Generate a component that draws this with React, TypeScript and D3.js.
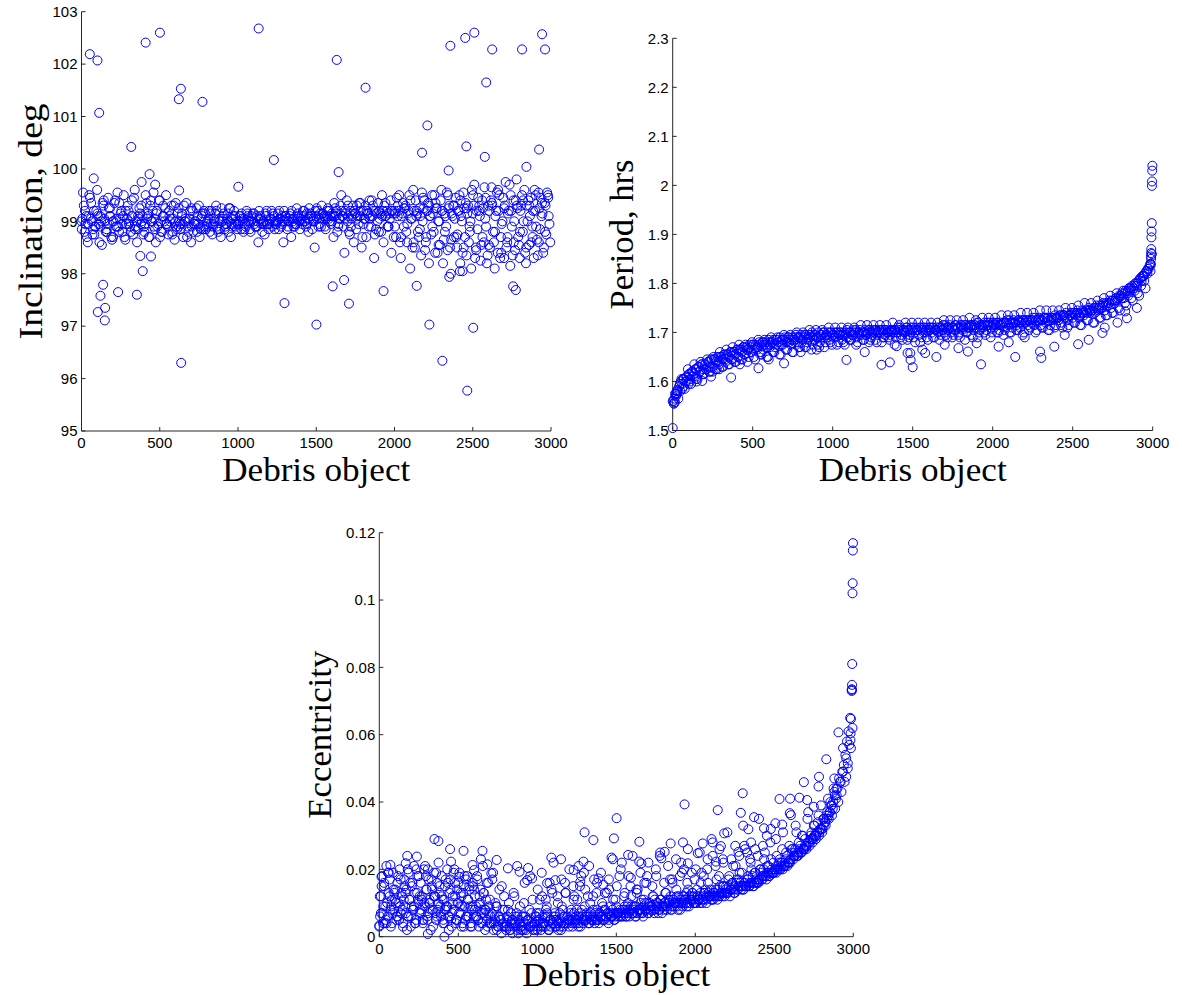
import React from "react";
import * as d3 from "d3";

// ---------- tick labels ----------
const xTicks = [0, 500, 1000, 1500, 2000, 2500, 3000];
const incTicks = [95, 96, 97, 98, 99, 100, 101, 102, 103];
const perTicks = [1.5, 1.6, 1.7, 1.8, 1.9, 2, 2.1, 2.2, 2.3];
const eccTicks = [0, 0.02, 0.04, 0.06, 0.08, 0.1, 0.12];

// ---------- Inclination (deg) ----------
// objects 0,10,20,...
const incBand = [
  99.0, 99.55, 98.8, 99.1, 98.6, 99.5, 99.05, 98.75, 99.2, 98.9, 99.6, 98.95, 99.1, 98.55, 99.3, 99.0, 98.85, 99.45, 99.1, 98.7,
  99.0, 99.35, 98.9, 99.55, 98.8, 99.15, 98.95, 99.5, 98.65, 99.05, 99.2, 98.9, 99.1, 98.75, 99.6, 99.0, 98.85, 99.25, 98.95, 99.1,
  98.9, 99.5, 99.05, 98.7, 99.3, 99.0, 99.55, 98.85, 99.15, 98.95, 99.4, 98.8, 99.1, 99.0, 99.5, 98.9, 99.2, 99.05, 98.75, 99.3,
  99.0, 98.85, 99.25, 98.95, 99.1, 98.7, 99.0, 99.35, 98.9, 99.05, 98.6, 99.2, 98.95, 99.0, 98.8, 99.3, 98.9, 99.1, 98.85, 99.15,
  98.95, 99.05, 98.8, 99.2, 98.9, 99.0, 99.3, 98.85, 99.05, 98.7, 99.0, 99.15, 98.9, 99.05, 98.8, 99.25, 98.95, 99.1, 98.9, 99.0,
  98.95, 99.1, 98.85, 99.0, 99.05, 98.9, 99.15, 99.0, 98.8, 99.05, 99.0, 98.9, 99.1, 98.6, 99.05, 98.95, 99.0, 98.75, 99.1, 98.95,
  99.0, 99.05, 98.9, 99.1, 98.95, 99.0, 98.85, 99.05, 99.1, 98.6, 99.0, 99.05, 98.9, 99.1, 98.7, 99.0, 99.05, 98.95, 99.1, 99.0,
  99.05, 98.95, 99.1, 99.0, 99.15, 98.8, 99.05, 99.1, 99.0, 98.5, 99.1, 99.2, 99.05, 98.9, 99.15, 99.1, 98.85, 99.2, 99.05, 99.1,
  99.15, 98.7, 99.1, 99.2, 98.9, 99.05, 99.5, 99.1, 98.4, 99.15, 99.0, 98.8, 99.2, 99.1, 98.6, 99.15, 99.3, 98.95, 99.1, 98.5,
  99.2, 99.05, 98.7, 99.15, 99.4, 98.9, 99.1, 98.3, 99.2, 99.0, 98.8, 99.15, 99.5, 98.6, 99.1, 99.2, 98.9, 99.05, 98.4, 99.15,
  99.2, 98.7, 99.1, 99.5, 98.3, 99.15, 98.9, 99.3, 98.6, 99.2, 98.1, 99.05, 99.6, 98.5, 99.1, 98.8, 99.25, 98.35, 99.0, 99.4,
  98.6, 99.2, 98.2, 99.1, 99.5, 98.8, 98.4, 99.25, 99.0, 98.55, 99.6, 98.2, 99.15, 98.9, 98.45, 99.3, 98.0, 99.1, 98.7, 99.45,
  98.5, 99.2, 98.2, 99.0, 99.55, 98.7, 98.35, 99.3, 98.9, 98.1, 99.15, 99.7, 98.5, 98.85, 99.2, 98.25, 99.4, 98.6, 99.05, 98.2,
  99.3, 98.5, 99.65, 98.8, 98.1, 99.2, 98.4, 99.5, 98.7, 99.0, 98.3, 99.75, 98.6, 99.2, 98.15, 98.9, 99.4, 98.45, 99.8, 98.7,
  98.3, 99.3, 98.8, 99.6, 98.2, 99.0, 98.55, 99.45, 98.9, 98.3, 99.2, 98.65, 99.55, 98.85, 99.1, 98.4, 99.35, 98.75, 99.5, 98.95,
];
// objects 5,25,45,...
const incCore = [
  99.05, 98.95, 99.1, 99.0, 98.9, 99.1, 99.0, 99.05, 98.95, 99.1, 99.0, 98.9, 99.05, 99.1, 98.95, 99.0, 99.1, 98.9, 99.05, 99.0,
  98.95, 99.1, 99.0, 99.05, 98.9, 99.0, 99.1, 98.95, 99.0, 99.05, 98.9, 99.0, 98.95, 99.05, 99.0, 98.9, 99.0, 98.95, 99.05, 98.9,
  99.0, 98.95, 99.05, 98.9, 99.0, 99.05, 98.95, 99.0, 99.05, 98.95, 99.0, 99.05, 98.95, 99.0, 99.1, 98.95, 99.0, 99.05, 99.0, 98.95,
  99.05, 99.0, 98.95, 99.05, 99.0, 99.1, 99.0, 99.05, 98.95, 99.05, 99.1, 99.0, 99.05, 99.1, 99.0, 99.05, 99.15, 99.05, 99.1, 99.0,
  99.1, 99.15, 99.05, 99.1, 99.2, 99.1, 99.05, 99.15, 99.1, 99.2, 99.05, 99.15, 99.1, 99.2, 99.15, 99.05, 99.2, 99.1, 99.15, 99.2,
  99.15, 99.2, 99.1, 99.25, 99.15, 99.05, 99.2, 99.15, 99.1, 99.25, 99.2, 99.1, 99.15, 99.25, 99.0, 99.2, 99.1, 99.25, 99.15, 99.05,
  99.2, 99.1, 99.25, 99.15, 99.0, 99.3, 99.2, 99.1, 99.25, 98.9, 99.2, 99.3, 99.1, 99.2, 98.95, 99.3, 99.15, 99.2, 99.0, 99.25,
  99.2, 99.0, 99.3, 99.1, 99.2, 98.9, 99.25, 99.15, 99.3, 99.1,
];
// objects 15,35,55,...
const incSpread = [
  99.3, 98.7, 99.45, 98.85, 99.2, 98.6, 99.35, 98.8, 99.25, 98.65, 99.4, 98.9, 99.2, 98.7, 99.3, 98.8, 99.45, 98.6, 99.15, 98.75,
  99.35, 98.7, 99.2, 98.6, 99.4, 98.8, 99.25, 98.75, 99.3, 98.65, 99.15, 98.85, 99.3, 98.7, 99.2, 98.8, 99.25, 98.7, 99.15, 98.85,
  99.2, 98.75, 99.15, 98.8, 99.25, 98.85, 99.15, 98.7, 99.2, 98.85, 99.1, 98.8, 99.2, 98.85, 99.15, 98.9, 99.2, 98.8, 99.15, 98.85,
  99.2, 98.85, 99.15, 98.9, 99.2, 98.85, 99.15, 98.9, 99.25, 98.85, 99.2, 98.9, 99.25, 98.85, 99.2, 98.9, 99.3, 98.9, 99.25, 98.95,
  99.35, 98.8, 99.3, 98.9, 99.4, 98.75, 99.3, 98.85, 99.35, 98.7, 99.3, 98.9, 99.4, 98.75, 99.35, 98.8, 99.3, 98.9, 99.4, 98.7,
  99.45, 98.6, 99.35, 98.8, 99.5, 98.5, 99.4, 98.7, 99.55, 98.45, 99.35, 98.75, 99.5, 98.4, 99.4, 98.65, 99.55, 98.5, 99.3, 98.7,
  99.5, 98.4, 99.35, 98.6, 99.6, 98.3, 99.45, 98.55, 99.65, 98.35, 99.4, 98.6, 99.55, 98.3, 99.45, 98.5, 99.7, 98.35, 99.4, 98.55,
  99.5, 98.4, 99.4, 98.6, 99.6, 98.35, 99.45, 98.5, 99.55, 98.6,
];
// objects 2,22,42,...
const incExtra = [
  98.85, 99.2, 98.95, 99.35, 98.75, 99.15, 98.9, 99.4, 98.8, 99.25, 98.7, 99.05, 99.35, 98.8, 99.2, 98.95, 99.4, 98.85, 99.1, 99.3,
  98.8, 99.15, 99.4, 98.9, 99.2, 98.7, 99.3, 98.95, 99.1, 98.8, 99.35, 98.9, 99.15, 99.0, 98.8, 99.25, 98.95, 99.1, 98.85, 99.2,
  98.9, 99.15, 98.95, 99.2, 98.85, 99.1, 98.95, 99.25, 98.9, 99.1, 98.95, 99.15, 98.85, 99.1, 99.0, 99.15, 98.9, 99.1, 98.95, 99.2,
  98.95, 99.15, 99.0, 99.2, 98.95, 99.1, 99.0, 99.2, 98.9, 99.15, 99.0, 99.2, 98.95, 99.15, 99.05, 99.25, 98.95, 99.15, 99.05, 99.2,
  99.0, 99.25, 98.95, 99.2, 99.05, 99.3, 98.9, 99.2, 99.05, 99.35, 98.95, 99.2, 99.05, 99.3, 98.85, 99.2, 99.1, 99.35, 98.9, 99.2,
  98.9, 99.3, 98.7, 99.25, 98.95, 99.4, 98.6, 99.2, 98.85, 99.45, 98.7, 99.3, 98.9, 99.35, 98.55, 99.2, 98.8, 99.5, 98.65, 99.3,
  98.75, 99.4, 98.5, 99.25, 98.8, 99.5, 98.45, 99.3, 98.7, 99.45, 98.55, 99.35, 98.8, 99.6, 98.4, 99.25, 98.7, 99.5, 98.6, 99.3,
  98.8, 99.4, 98.5, 99.3, 98.7, 99.5, 98.6, 99.35, 98.8, 99.45,
];
const incOutliers: [number, number][] = [
  [53, 102.19], [102, 102.07], [113, 101.07], [410, 102.41], [501, 102.6], [622, 101.33], [635, 101.53], [773, 101.28],
  [1132, 102.68], [1229, 100.17], [318, 100.42], [78, 99.82], [384, 99.75], [435, 99.9], [471, 99.7], [1002, 99.66],
  [624, 99.59], [138, 97.79], [121, 97.58], [104, 97.27], [151, 97.35], [149, 97.11], [234, 97.65], [354, 97.6],
  [391, 98.05], [444, 98.33], [376, 98.34], [637, 96.3], [1297, 97.44], [1501, 97.03], [1643, 99.94], [1631, 102.08],
  [1815, 101.55], [1605, 97.76], [1678, 97.88], [1709, 97.43], [1930, 97.67], [2142, 97.77], [2176, 100.31], [2210, 100.83],
  [2223, 97.03], [2306, 96.34], [2346, 99.97], [2350, 97.94], [2357, 102.35], [2418, 98.05], [2435, 98.05], [2452, 102.5],
  [2459, 100.43], [2465, 95.77], [2503, 96.97], [2510, 102.6], [2577, 100.23], [2586, 101.65], [2624, 102.28], [2758, 97.76],
  [2775, 97.69], [2815, 102.28], [2843, 100.04], [2924, 100.37], [2943, 102.57], [2962, 102.28],
];

// ---------- Period (hrs) ----------
// objects 0,10,20,...
const perBand = [
  1.56, 1.565, 1.575, 1.58, 1.59, 1.6, 1.595, 1.605, 1.6, 1.61, 1.615, 1.605, 1.62, 1.615, 1.625, 1.61, 1.63, 1.62, 1.635, 1.625,
  1.635, 1.625, 1.64, 1.63, 1.645, 1.62, 1.645, 1.64, 1.65, 1.635, 1.65, 1.645, 1.655, 1.64, 1.655, 1.65, 1.66, 1.645, 1.66, 1.655,
  1.665, 1.65, 1.665, 1.66, 1.67, 1.655, 1.67, 1.665, 1.675, 1.66, 1.675, 1.665, 1.675, 1.67, 1.68, 1.66, 1.68, 1.675, 1.68, 1.67,
  1.685, 1.675, 1.68, 1.685, 1.67, 1.685, 1.68, 1.69, 1.675, 1.685, 1.69, 1.68, 1.69, 1.685, 1.675, 1.69, 1.685, 1.695, 1.68, 1.69,
  1.695, 1.685, 1.69, 1.695, 1.68, 1.695, 1.69, 1.7, 1.685, 1.695, 1.69, 1.7, 1.68, 1.695, 1.7, 1.69, 1.695, 1.7, 1.685, 1.7,
  1.695, 1.7, 1.69, 1.7, 1.695, 1.7, 1.685, 1.7, 1.695, 1.705, 1.69, 1.7, 1.695, 1.705, 1.7, 1.69, 1.7, 1.705, 1.695, 1.7,
  1.705, 1.695, 1.7, 1.705, 1.69, 1.705, 1.7, 1.705, 1.695, 1.705, 1.7, 1.705, 1.69, 1.705, 1.7, 1.705, 1.695, 1.705, 1.7, 1.705,
  1.7, 1.705, 1.71, 1.695, 1.705, 1.7, 1.71, 1.705, 1.695, 1.71, 1.705, 1.7, 1.71, 1.705, 1.695, 1.71, 1.705, 1.71, 1.7, 1.71,
  1.705, 1.71, 1.7, 1.71, 1.705, 1.71, 1.7, 1.71, 1.705, 1.715, 1.7, 1.71, 1.705, 1.715, 1.7, 1.71, 1.705, 1.715, 1.71, 1.7,
  1.715, 1.705, 1.71, 1.715, 1.7, 1.715, 1.71, 1.715, 1.705, 1.715, 1.71, 1.72, 1.705, 1.715, 1.71, 1.72, 1.705, 1.715, 1.72, 1.71,
  1.72, 1.71, 1.715, 1.72, 1.705, 1.72, 1.715, 1.72, 1.71, 1.725, 1.715, 1.72, 1.71, 1.725, 1.72, 1.715, 1.725, 1.71, 1.72, 1.725,
  1.72, 1.725, 1.715, 1.725, 1.72, 1.73, 1.715, 1.725, 1.72, 1.73, 1.715, 1.725, 1.73, 1.72, 1.73, 1.725, 1.715, 1.73, 1.725, 1.735,
  1.73, 1.725, 1.735, 1.72, 1.735, 1.73, 1.74, 1.725, 1.735, 1.74, 1.73, 1.74, 1.735, 1.745, 1.73, 1.74, 1.745, 1.735, 1.745, 1.74,
  1.75, 1.74, 1.745, 1.75, 1.74, 1.755, 1.745, 1.755, 1.75, 1.76, 1.745, 1.76, 1.755, 1.765, 1.75, 1.765, 1.76, 1.77, 1.765, 1.775,
  1.775, 1.78, 1.77, 1.785, 1.78, 1.79, 1.785, 1.795, 1.79, 1.8, 1.795, 1.805, 1.81, 1.805, 1.815, 1.82, 1.825, 1.83, 1.835, 1.85,
];
// objects 5,25,45,...
const perCore = [
  1.56, 1.58, 1.595, 1.605, 1.61, 1.615, 1.62, 1.625, 1.63, 1.635, 1.635, 1.64, 1.645, 1.645, 1.65, 1.65, 1.655, 1.655, 1.66, 1.66,
  1.665, 1.665, 1.67, 1.665, 1.67, 1.675, 1.67, 1.675, 1.68, 1.675, 1.68, 1.68, 1.685, 1.68, 1.685, 1.685, 1.69, 1.685, 1.69, 1.69,
  1.69, 1.695, 1.69, 1.695, 1.695, 1.69, 1.695, 1.7, 1.695, 1.7, 1.695, 1.7, 1.7, 1.695, 1.7, 1.7, 1.7, 1.705, 1.7, 1.7,
  1.7, 1.705, 1.7, 1.705, 1.7, 1.705, 1.705, 1.7, 1.705, 1.705, 1.71, 1.705, 1.705, 1.71, 1.705, 1.71, 1.705, 1.71, 1.71, 1.705,
  1.71, 1.71, 1.705, 1.71, 1.71, 1.715, 1.71, 1.71, 1.715, 1.71, 1.715, 1.715, 1.71, 1.715, 1.715, 1.72, 1.715, 1.715, 1.72, 1.715,
  1.72, 1.72, 1.715, 1.72, 1.72, 1.725, 1.72, 1.72, 1.725, 1.725, 1.72, 1.725, 1.725, 1.73, 1.725, 1.725, 1.73, 1.73, 1.725, 1.73,
  1.73, 1.735, 1.735, 1.73, 1.735, 1.74, 1.74, 1.735, 1.74, 1.745, 1.745, 1.745, 1.75, 1.75, 1.755, 1.755, 1.76, 1.765, 1.765, 1.77,
  1.775, 1.78, 1.785, 1.79, 1.795, 1.8, 1.81, 1.815, 1.825, 1.84,
];
// objects 15,35,55,...
const perSpread = [
  1.575, 1.565, 1.605, 1.585, 1.625, 1.595, 1.635, 1.605, 1.64, 1.615, 1.645, 1.62, 1.65, 1.625, 1.66, 1.63, 1.665, 1.635, 1.67, 1.64,
  1.675, 1.645, 1.675, 1.65, 1.68, 1.645, 1.685, 1.655, 1.685, 1.65, 1.69, 1.66, 1.69, 1.655, 1.695, 1.665, 1.695, 1.66, 1.7, 1.67,
  1.7, 1.67, 1.705, 1.675, 1.705, 1.67, 1.705, 1.68, 1.71, 1.675, 1.71, 1.68, 1.71, 1.675, 1.71, 1.685, 1.71, 1.68, 1.715, 1.685,
  1.715, 1.685, 1.715, 1.68, 1.715, 1.69, 1.715, 1.685, 1.72, 1.69, 1.715, 1.685, 1.72, 1.69, 1.72, 1.68, 1.72, 1.69, 1.72, 1.685,
  1.72, 1.69, 1.72, 1.695, 1.725, 1.69, 1.725, 1.695, 1.725, 1.69, 1.725, 1.7, 1.73, 1.69, 1.725, 1.7, 1.73, 1.695, 1.73, 1.7,
  1.73, 1.7, 1.735, 1.705, 1.735, 1.7, 1.735, 1.705, 1.74, 1.7, 1.74, 1.71, 1.74, 1.705, 1.745, 1.71, 1.745, 1.705, 1.745, 1.715,
  1.745, 1.71, 1.75, 1.715, 1.75, 1.72, 1.755, 1.715, 1.76, 1.725, 1.76, 1.72, 1.765, 1.73, 1.77, 1.735, 1.775, 1.74, 1.78, 1.745,
  1.785, 1.755, 1.79, 1.765, 1.8, 1.775, 1.815, 1.79, 1.83, 1.86,
];
// objects 7,27,47,...
const perLow = [
  1.555, 1.575, 1.58, 1.59, 1.6, 1.6, 1.61, 1.605, 1.62, 1.615, 1.625, 1.62, 1.63, 1.625, 1.64, 1.63, 1.645, 1.635, 1.645, 1.64,
  1.65, 1.645, 1.655, 1.64, 1.66, 1.65, 1.665, 1.655, 1.665, 1.65, 1.67, 1.66, 1.675, 1.655, 1.675, 1.665, 1.68, 1.66, 1.68, 1.67,
  1.68, 1.67, 1.685, 1.665, 1.685, 1.675, 1.69, 1.67, 1.69, 1.68, 1.69, 1.675, 1.695, 1.68, 1.69, 1.685, 1.695, 1.675, 1.695, 1.685,
  1.695, 1.68, 1.695, 1.685, 1.7, 1.68, 1.695, 1.69, 1.7, 1.675, 1.7, 1.69, 1.7, 1.685, 1.7, 1.69, 1.705, 1.68, 1.7, 1.69,
  1.705, 1.69, 1.705, 1.685, 1.705, 1.695, 1.71, 1.69, 1.705, 1.695, 1.71, 1.685, 1.71, 1.695, 1.71, 1.69, 1.71, 1.7, 1.715, 1.69,
  1.715, 1.7, 1.715, 1.695, 1.72, 1.7, 1.72, 1.705, 1.72, 1.695, 1.725, 1.705, 1.725, 1.7, 1.725, 1.71, 1.73, 1.705, 1.73, 1.71,
  1.73, 1.715, 1.735, 1.71, 1.735, 1.72, 1.74, 1.715, 1.74, 1.725, 1.745, 1.72, 1.75, 1.73, 1.755, 1.735, 1.76, 1.74, 1.765, 1.75,
  1.77, 1.76, 1.775, 1.77, 1.785, 1.78, 1.795, 1.805, 1.82, 1.84,
];
const perOutliers: [number, number][] = [
  [0, 1.505], [8, 1.555], [14, 1.558], [20, 1.57], [30, 1.583], [60, 1.585], [100, 1.595], [150, 1.6], [184, 1.601],
  [240, 1.61], [290, 1.625], [365, 1.608], [420, 1.635], [536, 1.627], [600, 1.645], [696, 1.637], [800, 1.66], [900, 1.665],
  [1086, 1.644], [1200, 1.66], [1305, 1.634], [1357, 1.639], [1400, 1.672], [1468, 1.658], [1485, 1.658], [1487, 1.644],
  [1500, 1.629], [1560, 1.665], [1578, 1.658], [1648, 1.65], [1700, 1.675], [1786, 1.668], [1845, 1.661], [1900, 1.678],
  [1927, 1.635], [2037, 1.671], [2100, 1.68], [2141, 1.65], [2200, 1.69], [2296, 1.661], [2304, 1.648], [2385, 1.671],
  [2450, 1.695], [2534, 1.676], [2600, 1.685], [2686, 1.699], [2700, 1.71], [2780, 1.72], [2828, 1.743], [2839, 1.729],
  [2901, 1.75], [2986, 1.825], [2988, 1.838], [2989, 1.855], [2990, 1.862], [2991, 1.87], [2992, 1.894], [2993, 1.906],
  [2994, 1.923], [2995, 1.999], [2996, 2.008], [2997, 2.03], [2998, 2.04],
];

// ---------- Eccentricity ----------
// objects 0,10,20,...
const eccBand = [
  0.003, 0.012, 0.007, 0.016, 0.005, 0.01, 0.019, 0.008, 0.004, 0.014, 0.011, 0.006, 0.018, 0.009, 0.013, 0.003, 0.015, 0.007, 0.02, 0.011,
  0.006, 0.016, 0.009, 0.004, 0.013, 0.018, 0.008, 0.011, 0.005, 0.021, 0.014, 0.007, 0.01, 0.017, 0.003, 0.012, 0.019, 0.008, 0.015, 0.006,
  0.011, 0.004, 0.017, 0.009, 0.002, 0.014, 0.007, 0.019, 0.012, 0.005, 0.016, 0.009, 0.003, 0.013, 0.018, 0.006, 0.011, 0.015, 0.004, 0.009,
  0.014, 0.006, 0.017, 0.003, 0.01, 0.008, 0.013, 0.002, 0.016, 0.007, 0.011, 0.004, 0.019, 0.006, 0.009, 0.003, 0.014, 0.005, 0.008, 0.012,
  0.003, 0.006, 0.01, 0.002, 0.005, 0.013, 0.004, 0.007, 0.001, 0.009, 0.003, 0.006, 0.016, 0.002, 0.005, 0.008, 0.003, 0.011, 0.004, 0.006,
  0.002, 0.007, 0.004, 0.012, 0.003, 0.006, 0.009, 0.002, 0.005, 0.014, 0.004, 0.007, 0.003, 0.01, 0.005, 0.002, 0.008, 0.004, 0.013, 0.006,
  0.003, 0.007, 0.005, 0.011, 0.004, 0.008, 0.003, 0.015, 0.006, 0.004, 0.009, 0.005, 0.012, 0.004, 0.007, 0.006, 0.017, 0.005, 0.008, 0.004,
  0.006, 0.01, 0.005, 0.008, 0.013, 0.004, 0.007, 0.006, 0.011, 0.005, 0.009, 0.007, 0.018, 0.006, 0.008, 0.012, 0.006, 0.009, 0.007, 0.015,
  0.007, 0.009, 0.006, 0.013, 0.008, 0.007, 0.011, 0.006, 0.01, 0.016, 0.007, 0.009, 0.008, 0.012, 0.007, 0.02, 0.009, 0.008, 0.011, 0.007,
  0.009, 0.013, 0.008, 0.01, 0.017, 0.008, 0.011, 0.009, 0.014, 0.008, 0.01, 0.022, 0.009, 0.012, 0.01, 0.016, 0.009, 0.011, 0.013, 0.01,
  0.01, 0.014, 0.011, 0.01, 0.019, 0.011, 0.013, 0.01, 0.016, 0.012, 0.011, 0.024, 0.012, 0.014, 0.011, 0.018, 0.013, 0.012, 0.015, 0.013,
  0.013, 0.017, 0.012, 0.014, 0.021, 0.013, 0.016, 0.014, 0.019, 0.014, 0.015, 0.027, 0.015, 0.017, 0.015, 0.022, 0.016, 0.015, 0.019, 0.016,
  0.016, 0.02, 0.017, 0.018, 0.025, 0.017, 0.019, 0.018, 0.023, 0.019, 0.019, 0.029, 0.02, 0.022, 0.02, 0.026, 0.021, 0.021, 0.024, 0.022,
  0.022, 0.026, 0.023, 0.024, 0.031, 0.024, 0.026, 0.025, 0.03, 0.026, 0.027, 0.035, 0.028, 0.03, 0.029, 0.033, 0.03, 0.031, 0.036, 0.032,
  0.032, 0.035, 0.034, 0.036, 0.041, 0.037, 0.039, 0.038, 0.043, 0.041, 0.044, 0.047, 0.046, 0.049, 0.051, 0.054, 0.058, 0.061, 0.065, 0.073,
];
// objects 5,25,45,...
const eccCore = [
  0.006, 0.009, 0.004, 0.012, 0.007, 0.01, 0.005, 0.008, 0.013, 0.006, 0.009, 0.004, 0.011, 0.007, 0.01, 0.005, 0.008, 0.012, 0.006, 0.009,
  0.005, 0.008, 0.006, 0.01, 0.004, 0.007, 0.009, 0.005, 0.006, 0.003, 0.008, 0.005, 0.004, 0.007, 0.003, 0.006, 0.004, 0.002, 0.005, 0.003,
  0.004, 0.002, 0.005, 0.003, 0.004, 0.002, 0.006, 0.003, 0.004, 0.002, 0.005, 0.003, 0.004, 0.006, 0.003, 0.005, 0.004, 0.003, 0.006, 0.004,
  0.005, 0.004, 0.006, 0.004, 0.005, 0.006, 0.004, 0.005, 0.007, 0.005, 0.006, 0.005, 0.007, 0.006, 0.005, 0.007, 0.006, 0.007, 0.006, 0.008,
  0.007, 0.006, 0.008, 0.007, 0.008, 0.007, 0.009, 0.008, 0.007, 0.009, 0.008, 0.009, 0.008, 0.01, 0.009, 0.008, 0.01, 0.009, 0.01, 0.011,
  0.01, 0.011, 0.01, 0.011, 0.012, 0.011, 0.012, 0.012, 0.013, 0.012, 0.013, 0.014, 0.013, 0.014, 0.015, 0.014, 0.015, 0.016, 0.015, 0.016,
  0.017, 0.017, 0.018, 0.018, 0.019, 0.02, 0.02, 0.021, 0.022, 0.022, 0.023, 0.024, 0.025, 0.025, 0.026, 0.027, 0.028, 0.029, 0.03, 0.031,
  0.032, 0.033, 0.035, 0.036, 0.038, 0.04, 0.043, 0.046, 0.05, 0.056,
];
// objects 15,35,55,...
const eccSpread = [
  0.015, 0.004, 0.019, 0.009, 0.013, 0.006, 0.017, 0.011, 0.002, 0.016, 0.008, 0.02, 0.012, 0.005, 0.018, 0.01, 0.014, 0.007, 0.022, 0.012,
  0.008, 0.016, 0.005, 0.02, 0.01, 0.013, 0.003, 0.018, 0.009, 0.015, 0.006, 0.012, 0.021, 0.008, 0.004, 0.017, 0.01, 0.006, 0.015, 0.003,
  0.008, 0.004, 0.012, 0.006, 0.002, 0.01, 0.005, 0.018, 0.003, 0.007, 0.011, 0.004, 0.008, 0.002, 0.013, 0.006, 0.004, 0.009, 0.016, 0.005,
  0.008, 0.012, 0.005, 0.007, 0.019, 0.006, 0.01, 0.005, 0.013, 0.007, 0.009, 0.006, 0.014, 0.008, 0.011, 0.007, 0.022, 0.008, 0.01, 0.012,
  0.009, 0.014, 0.008, 0.011, 0.018, 0.009, 0.012, 0.01, 0.024, 0.009, 0.013, 0.011, 0.016, 0.01, 0.012, 0.019, 0.011, 0.014, 0.012, 0.017,
  0.012, 0.016, 0.013, 0.02, 0.014, 0.013, 0.017, 0.015, 0.023, 0.015, 0.018, 0.016, 0.021, 0.017, 0.019, 0.026, 0.018, 0.02, 0.019, 0.024,
  0.02, 0.023, 0.021, 0.028, 0.022, 0.024, 0.023, 0.031, 0.025, 0.027, 0.026, 0.033, 0.028, 0.03, 0.029, 0.037, 0.031, 0.033, 0.034, 0.039,
  0.035, 0.037, 0.04, 0.044, 0.042, 0.046, 0.049, 0.053, 0.057, 0.062,
];
// objects 3,10,17,... (first 700 objects)
const eccLeft = [
  0.012, 0.007, 0.018, 0.004, 0.015, 0.009, 0.021, 0.006, 0.013, 0.017, 0.003, 0.011, 0.019, 0.008, 0.014, 0.005, 0.016, 0.01, 0.02, 0.007,
  0.012, 0.004, 0.017, 0.009, 0.014, 0.006, 0.019, 0.011, 0.003, 0.015, 0.008, 0.021, 0.013, 0.005, 0.018, 0.01, 0.007, 0.016, 0.012, 0.004,
  0.02, 0.009, 0.014, 0.006, 0.017, 0.011, 0.002, 0.015, 0.008, 0.019, 0.012, 0.005, 0.016, 0.01, 0.013, 0.007, 0.018, 0.004, 0.011, 0.015,
  0.009, 0.02, 0.006, 0.013, 0.017, 0.003, 0.012, 0.008, 0.016, 0.005, 0.014, 0.01, 0.019, 0.007, 0.012, 0.004, 0.015, 0.009, 0.017, 0.006,
  0.011, 0.014, 0.003, 0.008, 0.016, 0.006, 0.012, 0.009, 0.018, 0.005, 0.01, 0.014, 0.007, 0.004, 0.013, 0.008, 0.011, 0.005, 0.016, 0.009,
];
// objects 703,713,... (to 1993)
const eccMid = [
  0.004, 0.007, 0.002, 0.005, 0.009, 0.003, 0.006, 0.001, 0.004, 0.008,
  0.002, 0.005, 0.003, 0.007, 0.001, 0.004, 0.006, 0.002, 0.005, 0.003,
  0.006, 0.002, 0.004, 0.001, 0.005, 0.003, 0.007, 0.002, 0.004, 0.006,
  0.003, 0.005, 0.002, 0.006, 0.004, 0.003, 0.007, 0.002, 0.005, 0.004,
  0.006, 0.003, 0.005, 0.002, 0.007, 0.004, 0.003, 0.006, 0.004, 0.005,
  0.004, 0.006, 0.003, 0.007, 0.005, 0.004, 0.006, 0.003, 0.008, 0.005,
  0.005, 0.007, 0.004, 0.006, 0.005, 0.008, 0.004, 0.006, 0.005, 0.007,
  0.006, 0.005, 0.008, 0.006, 0.007, 0.005, 0.009, 0.006, 0.007, 0.006,
  0.007, 0.006, 0.008, 0.007, 0.006, 0.009, 0.007, 0.008, 0.006, 0.009,
  0.008, 0.007, 0.009, 0.007, 0.008, 0.01, 0.007, 0.009, 0.008, 0.01,
  0.008, 0.01, 0.009, 0.008, 0.011, 0.009, 0.01, 0.008, 0.011, 0.009,
  0.01, 0.009, 0.011, 0.01, 0.012, 0.009, 0.011, 0.01, 0.012, 0.01,
  0.011, 0.01, 0.012, 0.011, 0.013, 0.01, 0.012, 0.011, 0.013, 0.012,
];
// objects 1003,1028,... (to 2478)
const eccUpper = [
  0.014, 0.019, 0.011, 0.016, 0.022, 0.012, 0.017, 0.013, 0.02, 0.015, 0.011, 0.018, 0.014, 0.021, 0.012, 0.016, 0.019, 0.013, 0.017, 0.023,
  0.015, 0.02, 0.013, 0.018, 0.024, 0.014, 0.019, 0.016, 0.022, 0.015, 0.018, 0.025, 0.016, 0.021, 0.017, 0.023, 0.018, 0.02, 0.026, 0.019,
  0.02, 0.025, 0.018, 0.023, 0.029, 0.021, 0.026, 0.022, 0.031, 0.023, 0.027, 0.024, 0.033, 0.025, 0.028, 0.026, 0.035, 0.027, 0.03, 0.032,
];
// objects 2003,2013,... (to 2893)
const eccRight = [
  0.01, 0.012, 0.011, 0.013, 0.011, 0.012, 0.014, 0.012, 0.013, 0.012,
  0.012, 0.011, 0.013, 0.012, 0.014, 0.012, 0.013, 0.015, 0.013, 0.014,
  0.013, 0.015, 0.014, 0.016, 0.014, 0.015, 0.017, 0.015, 0.016, 0.015,
  0.014, 0.016, 0.015, 0.017, 0.015, 0.016, 0.018, 0.016, 0.017, 0.016,
  0.017, 0.019, 0.018, 0.02, 0.018, 0.019, 0.021, 0.019, 0.02, 0.019,
  0.02, 0.019, 0.021, 0.02, 0.022, 0.02, 0.021, 0.023, 0.021, 0.022,
  0.023, 0.025, 0.024, 0.026, 0.024, 0.025, 0.027, 0.025, 0.026, 0.027,
  0.026, 0.028, 0.027, 0.029, 0.028, 0.03, 0.029, 0.031, 0.03, 0.032,
  0.031, 0.033, 0.034, 0.035, 0.036, 0.037, 0.039, 0.04, 0.042, 0.044,
];
const eccOutliers: [number, number][] = [
  [0, 0.0033], [14, 0.0178], [70, 0.0213], [167, 0.0218], [177, 0.024], [238, 0.0238], [307, 0.02], [307, 0.0008],
  [349, 0.029], [374, 0.0284], [412, 0.0], [448, 0.026], [454, 0.0223], [506, 0.0178], [533, 0.0255], [590, 0.0213],
  [600, 0.0198], [643, 0.023], [653, 0.0255], [684, 0.0215], [709, 0.0188], [743, 0.0228], [814, 0.0203], [873, 0.021],
  [888, 0.0193], [936, 0.0168], [942, 0.0204], [967, 0.0173], [1062, 0.0159], [1089, 0.0235], [1114, 0.0168], [1150, 0.023],
  [1230, 0.0198], [1261, 0.021], [1272, 0.0163], [1292, 0.0223], [1299, 0.031], [1355, 0.0287], [1387, 0.0173], [1418, 0.0154],
  [1470, 0.0235], [1485, 0.0292], [1502, 0.0352], [1575, 0.0243], [1592, 0.0175], [1645, 0.0223], [1646, 0.0282], [1659, 0.0218],
  [1785, 0.0233], [1806, 0.0252], [1844, 0.0277], [1922, 0.028], [1932, 0.0393], [1953, 0.0218], [2016, 0.0248], [2047, 0.0277],
  [2110, 0.028], [2131, 0.0223], [2142, 0.0376], [2162, 0.0269], [2183, 0.0307], [2273, 0.0252], [2288, 0.0368], [2300, 0.0426],
  [2336, 0.0319], [2347, 0.0231], [2372, 0.0355], [2435, 0.0322], [2507, 0.0337], [2533, 0.0409], [2550, 0.0333], [2598, 0.0367],
  [2600, 0.041], [2605, 0.0361], [2659, 0.0413], [2687, 0.0459], [2708, 0.0406], [2750, 0.0386], [2780, 0.0446], [2783, 0.0475],
  [2829, 0.0527], [2880, 0.047], [2906, 0.0607], [2935, 0.056], [2955, 0.0475], [2965, 0.0515], [2982, 0.0584], [2983, 0.0604],
  [2985, 0.0647], [2990, 0.0733], [2991, 0.0735], [2992, 0.0748], [2993, 0.081], [2995, 0.102], [2996, 0.105], [2997, 0.1147],
  [2998, 0.1169],
];

// a run of consecutive sampled objects: first object number, spacing, values
type Run = { start: number; step: number; values: number[] };

type PanelProps = {
  x0: number; x1: number; y0: number; y1: number;
  yDomain: [number, number];
  yTicks: number[];
  runs: Run[]; outliers: [number, number][];
  ylabel: string; ylabelLen: number; ylabelX: number;
  xlabelY: number;
};

const AXIS = "#262626";
const BLUE = "#0000ff";
const TICKFONT = "'Liberation Sans', Arial, Helvetica, sans-serif";
const LABELFONT = "'Liberation Serif', 'Times New Roman', serif";

function Panel(p: PanelProps) {
  const xs = d3.scaleLinear().domain([0, 3000]).range([p.x0, p.x1]);
  const ys = d3.scaleLinear().domain(p.yDomain).range([p.y1, p.y0]);
  const pts: [number, number][] = [];
  p.runs.forEach((r) => r.values.forEach((v, i) => pts.push([r.start + i * r.step, v])));
  p.outliers.forEach((d) => pts.push(d));
  const tl = 4;
  return (
    <g>
      <line x1={p.x0} x2={p.x0} y1={ys(p.yDomain[1])} y2={p.y1} stroke={AXIS} strokeWidth={1} />
      <line x1={p.x0} x2={xs(3000)} y1={p.y1} y2={p.y1} stroke={AXIS} strokeWidth={1} />
      {p.yTicks.map((t) => (
        <g key={"y" + t}>
          <line x1={p.x0} x2={p.x0 + tl} y1={ys(t)} y2={ys(t)} stroke={AXIS} strokeWidth={1} />
          <text x={p.x0 - 4} y={ys(t)} dy="0.35em" textAnchor="end" fontFamily={TICKFONT} fontSize={15} fill="#000">
            {String(t)}
          </text>
        </g>
      ))}
      {xTicks.map((t) => (
        <g key={"x" + t}>
          <line x1={xs(t)} x2={xs(t)} y1={p.y1} y2={p.y1 - tl} stroke={AXIS} strokeWidth={1} />
          <text x={xs(t)} y={p.y1 + 17} textAnchor="middle" fontFamily={TICKFONT} fontSize={15} fill="#000">
            {String(t)}
          </text>
        </g>
      ))}
      {pts.map((d, i) => (
        <circle key={i} cx={xs(d[0])} cy={ys(d[1])} r={4.5} fill="none" stroke={BLUE} strokeWidth={1} />
      ))}
      <text
        x={(p.x0 + p.x1) / 2}
        y={p.xlabelY}
        textAnchor="middle"
        fontFamily={LABELFONT}
        fontSize={33}
        textLength={188}
        lengthAdjust="spacingAndGlyphs"
        fill="#000"
      >
        Debris object
      </text>
      <text
        transform={`translate(${p.ylabelX},${(ys(p.yDomain[1]) + p.y1) / 2}) rotate(-90)`}
        textAnchor="middle"
        fontFamily={LABELFONT}
        fontSize={33}
        textLength={p.ylabelLen}
        lengthAdjust="spacingAndGlyphs"
        fill="#000"
      >
        {p.ylabel}
      </text>
    </g>
  );
}

export default function App() {
  return (
    <svg
      width={1182}
      height={995}
      viewBox="0 0 1182 995"
      style={{ position: "absolute", left: 0, top: 0, background: "#fff" }}
    >
      <rect x={0} y={0} width={1182} height={995} fill="#fff" />
      <Panel
        x0={81.5} x1={551} y0={11.7} y1={431}
        yDomain={[95, 103]} yTicks={incTicks}
        runs={[
          { start: 0, step: 10, values: incBand },
          { start: 5, step: 20, values: incCore },
          { start: 15, step: 20, values: incSpread },
          { start: 2, step: 20, values: incExtra },
        ]}
        outliers={incOutliers}
        ylabel="Inclination, deg" ylabelLen={236} ylabelX={42}
        xlabelY={481}
      />
      <Panel
        x0={672.7} x1={1152.7} y0={38.3} y1={430.5}
        yDomain={[1.5, 2.3]} yTicks={perTicks}
        runs={[
          { start: 0, step: 10, values: perBand },
          { start: 5, step: 20, values: perCore },
          { start: 15, step: 20, values: perSpread },
          { start: 7, step: 20, values: perLow },
        ]}
        outliers={perOutliers}
        ylabel="Period, hrs" ylabelLen={150} ylabelX={633}
        xlabelY={481}
      />
      <Panel
        x0={379.3} x1={853.3} y0={532.7} y1={936.7}
        yDomain={[0, 0.12]} yTicks={eccTicks}
        runs={[
          { start: 0, step: 10, values: eccBand },
          { start: 5, step: 20, values: eccCore },
          { start: 15, step: 20, values: eccSpread },
          { start: 3, step: 7, values: eccLeft },
          { start: 703, step: 10, values: eccMid },
          { start: 1003, step: 25, values: eccUpper },
          { start: 2003, step: 10, values: eccRight },
        ]}
        outliers={eccOutliers}
        ylabel="Eccentricity" ylabelLen={168} ylabelX={331}
        xlabelY={986}
      />
    </svg>
  );
}
